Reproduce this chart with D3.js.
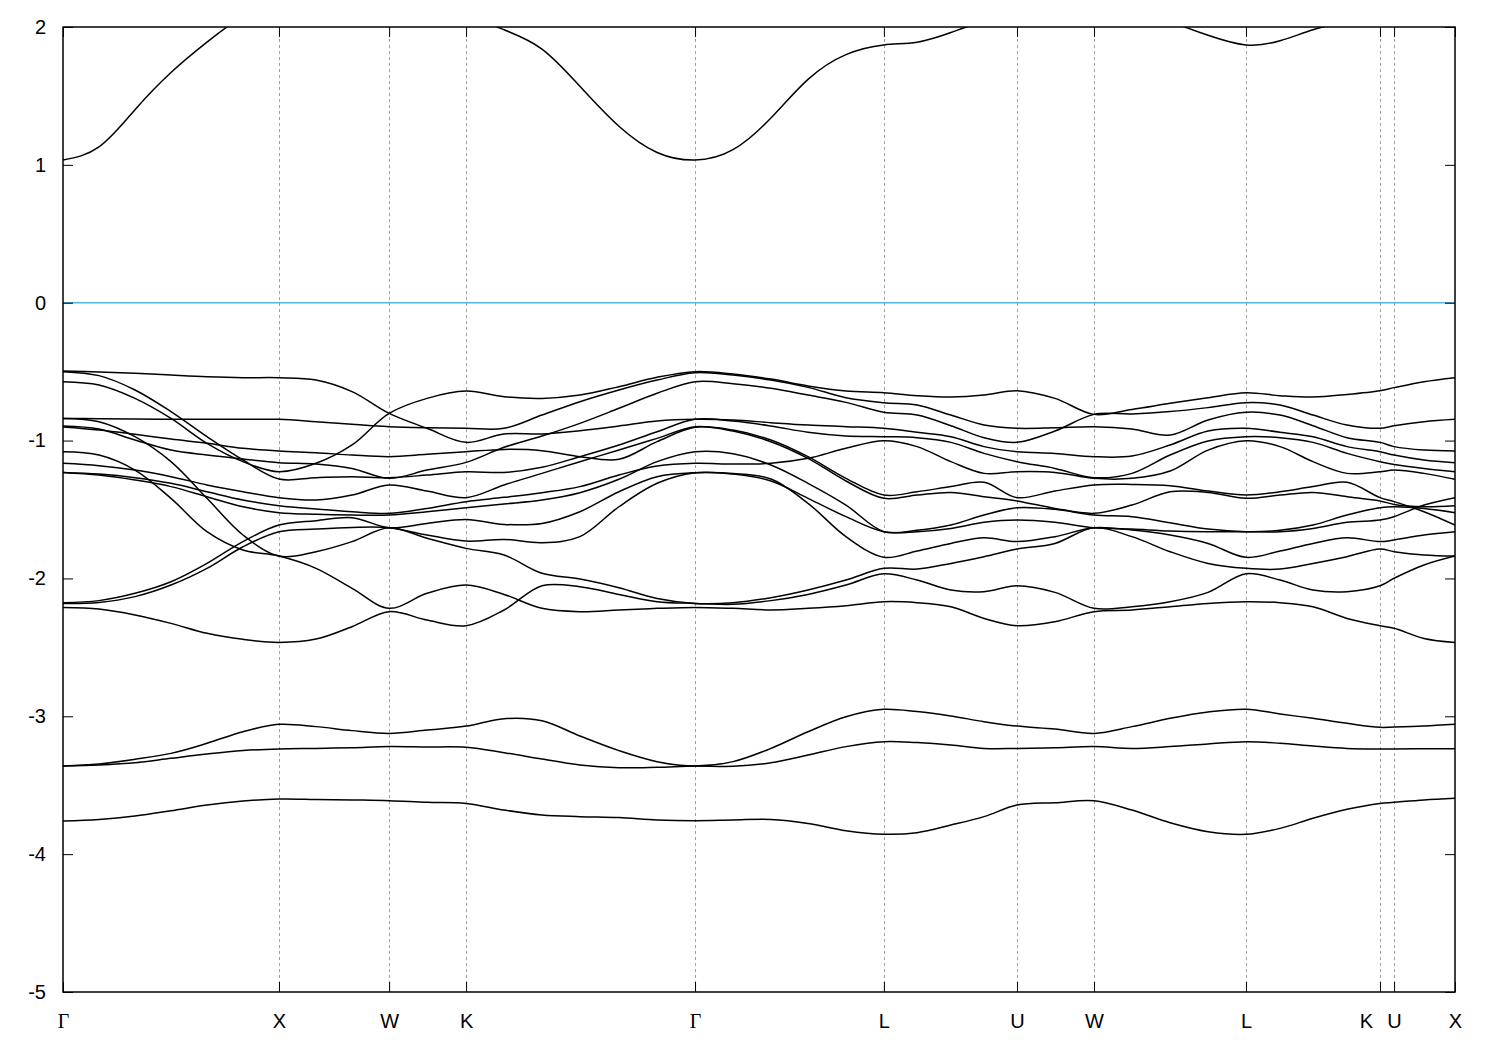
<!DOCTYPE html>
<html><head><meta charset="utf-8">
<script src="https://cdn.jsdelivr.net/npm/d3@7"></script>
<style>body{margin:0;background:#fff;} svg{display:block;}</style>
</head><body>
<svg id="chart" width="1500" height="1050"></svg>
<script>
// k-path distance of every sample point
const kGrid = [0,0.166,0.332,0.498,0.664,0.830,0.996, 1.167,1.333,1.504, 1.679,1.859,
  2.034,2.209,2.384,2.564,2.740,2.915, 3.090,3.265,3.436,3.611,3.786, 3.939,4.095,4.248,4.400,
  4.575,4.755, 4.930,5.106,5.281,5.456, 5.613,5.765,5.922,6.074, 6.139, 6.277,6.420];
const kTicks  = [0, 0.996, 1.504, 1.859, 2.915, 3.786, 4.400, 4.755, 5.456, 6.074, 6.139, 6.420];
const kLabels = ["Γ","X","W","K","Γ","L","U","W","L","K","U","X"];
const yTicks  = [-5,-4,-3,-2,-1,0,1,2];
const fermiLevel = 0;

// energies (eV) of each band at kGrid
const bandConduction = [1.035,1.13,1.40,1.67,1.89,2.08,2.2, 2.25,2.25,2.22, 2.15,2.08,
  1.98,1.84,1.57,1.28,1.09,1.035, 1.11,1.34,1.62,1.80,1.87, 1.89,1.96,2.04,2.08, 2.15,2.22,
  2.15,2.04,1.94,1.87, 1.90,1.98,2.04,2.08, 2.10, 2.15,2.2];
const bandA = [-0.495,-0.503,-0.512,-0.525,-0.537,-0.544,-0.544, -0.561,-0.645,-0.803, -0.911,-1.013,
  -0.952,-0.952,-0.928,-0.894,-0.858,-0.846, -0.851,-0.870,-0.887,-0.899,-0.911, -0.940,-0.972,-1.044,-1.081,
  -1.093,-1.117, -1.112,-1.032,-0.931,-0.911, -0.940,-0.972,-1.044,-1.081, -1.105, -1.141,-1.160];
const bandB = [-0.500,-0.529,-0.633,-0.790,-0.972,-1.141,-1.279, -1.269,-1.262,-1.269, -1.250,-1.226,
  -1.231,-1.194,-1.117,-1.032,-0.936,-0.846, -0.858,-0.894,-0.940,-0.967,-0.972, -0.979,-1.013,-1.093,-1.153,
  -1.202,-1.269, -1.238,-1.105,-1.003,-0.972, -0.979,-1.013,-1.093,-1.153, -1.173, -1.202,-1.226];
const bandC = [-0.573,-0.597,-0.694,-0.839,-1.020,-1.153,-1.226, -1.165,-1.032,-0.803, -0.694,-0.641,
  -0.682,-0.694,-0.670,-0.609,-0.541,-0.500, -0.517,-0.554,-0.604,-0.641,-0.653, -0.674,-0.684,-0.670,-0.638,
  -0.694,-0.810, -0.774,-0.730,-0.689,-0.653, -0.674,-0.684,-0.665,-0.638, -0.616, -0.573,-0.544];
const bandD = [-0.839,-0.841,-0.844,-0.846,-0.846,-0.846,-0.846, -0.863,-0.882,-0.899, -0.907,-0.911,
  -0.911,-0.815,-0.718,-0.633,-0.561,-0.508, -0.525,-0.561,-0.614,-0.689,-0.725, -0.742,-0.815,-0.887,-0.911,
  -0.907,-0.899, -0.916,-0.960,-0.851,-0.795, -0.815,-0.892,-0.979,-1.013, -1.044, -1.069,-1.076];
const bandE = [-0.902,-0.924,-0.955,-0.989,-1.020,-1.056,-1.076, -1.088,-1.105,-1.117, -1.100,-1.081,
  -1.064,-1.073,-1.117,-1.136,-1.008,-0.904, -0.924,-0.996,-1.117,-1.274,-1.395, -1.371,-1.334,-1.303,-1.414,
  -1.366,-1.322, -1.318,-1.327,-1.366,-1.395, -1.371,-1.334,-1.303,-1.414, -1.443, -1.516,-1.613];
const bandF = [-0.894,-0.916,-0.996,-1.069,-1.105,-1.134,-1.160, -1.170,-1.202,-1.274, -1.214,-1.158,
  -1.049,-0.967,-0.875,-0.766,-0.657,-0.573, -0.587,-0.621,-0.670,-0.723,-0.795, -0.815,-0.892,-0.979,-1.013,
  -0.931,-0.810, -0.807,-0.790,-0.761,-0.725, -0.742,-0.815,-0.887,-0.911, -0.892, -0.863,-0.846];
const bandH = [-1.165,-1.182,-1.214,-1.262,-1.322,-1.371,-1.414, -1.431,-1.395,-1.322, -1.366,-1.414,
  -1.322,-1.238,-1.153,-1.069,-0.984,-0.899, -0.931,-1.008,-1.129,-1.293,-1.419, -1.395,-1.376,-1.407,-1.438,
  -1.492,-1.528, -1.468,-1.371,-1.376,-1.419, -1.395,-1.376,-1.407,-1.438, -1.463, -1.480,-1.472];
const bandI = [-1.231,-1.243,-1.269,-1.310,-1.371,-1.431,-1.472, -1.497,-1.516,-1.528, -1.492,-1.443,
  -1.412,-1.378,-1.334,-1.250,-1.185,-1.165, -1.170,-1.165,-1.129,-1.056,-1.001, -1.044,-1.153,-1.238,-1.226,
  -1.231,-1.274, -1.274,-1.221,-1.069,-1.001, -1.044,-1.153,-1.238,-1.226, -1.214, -1.238,-1.281];
const bandJ = [-1.231,-1.250,-1.286,-1.334,-1.407,-1.480,-1.523, -1.535,-1.540,-1.540, -1.516,-1.487,
  -1.460,-1.431,-1.378,-1.281,-1.153,-1.081, -1.095,-1.177,-1.310,-1.468,-1.661, -1.651,-1.613,-1.540,-1.487,
  -1.499,-1.540, -1.552,-1.596,-1.642,-1.661, -1.651,-1.613,-1.540,-1.487, -1.480, -1.492,-1.523];
const bandK = [-2.176,-2.161,-2.108,-2.024,-1.891,-1.733,-1.613, -1.581,-1.559,-1.632, -1.601,-1.572,
  -1.608,-1.601,-1.516,-1.371,-1.262,-1.233, -1.238,-1.279,-1.455,-1.697,-1.847, -1.801,-1.746,-1.705,-1.733,
  -1.697,-1.632, -1.649,-1.685,-1.746,-1.847, -1.801,-1.746,-1.705,-1.733, -1.721, -1.685,-1.661];
const bandL = [-2.181,-2.174,-2.132,-2.048,-1.927,-1.770,-1.661, -1.642,-1.630,-1.632, -1.685,-1.729,
  -1.717,-1.741,-1.697,-1.480,-1.310,-1.233, -1.243,-1.293,-1.419,-1.552,-1.661, -1.661,-1.637,-1.593,-1.576,
  -1.593,-1.632, -1.642,-1.656,-1.661,-1.661, -1.661,-1.637,-1.593,-1.576, -1.552, -1.468,-1.414];
const bandM = [-0.839,-0.863,-0.972,-1.153,-1.419,-1.685,-1.838, -1.806,-1.733,-1.632, -1.709,-1.782,
  -1.830,-1.963,-2.004,-2.067,-2.145,-2.181, -2.176,-2.140,-2.084,-2.012,-1.927, -1.932,-1.891,-1.842,-1.787,
  -1.746,-1.632, -1.697,-1.806,-1.891,-1.927, -1.932,-1.891,-1.842,-1.787, -1.806, -1.830,-1.838];
const bandN = [-1.081,-1.105,-1.214,-1.419,-1.661,-1.794,-1.838, -1.927,-2.072,-2.217, -2.108,-2.048,
  -2.116,-2.217,-2.241,-2.229,-2.217,-2.210, -2.217,-2.229,-2.217,-2.198,-2.169, -2.176,-2.205,-2.290,-2.343,
  -2.314,-2.241, -2.229,-2.205,-2.181,-2.169, -2.176,-2.205,-2.290,-2.343, -2.362, -2.435,-2.464];
const bandO = [-2.210,-2.222,-2.265,-2.326,-2.398,-2.442,-2.464, -2.440,-2.350,-2.241, -2.302,-2.343,
  -2.229,-2.053,-2.060,-2.116,-2.169,-2.181, -2.188,-2.161,-2.116,-2.048,-1.966, -2.012,-2.084,-2.096,-2.053,
  -2.101,-2.217, -2.205,-2.169,-2.101,-1.966, -2.012,-2.084,-2.096,-2.053, -1.999, -1.903,-1.838];
const bandP = [-3.361,-3.346,-3.312,-3.269,-3.196,-3.112,-3.058, -3.075,-3.104,-3.124, -3.100,-3.071,
  -3.017,-3.032,-3.143,-3.249,-3.329,-3.361, -3.329,-3.233,-3.112,-3.003,-2.949, -2.966,-2.998,-3.039,-3.071,
  -3.092,-3.124, -3.075,-3.015,-2.969,-2.949, -2.983,-3.015,-3.051,-3.080, -3.078, -3.071,-3.058];
const bandQ = [-3.361,-3.353,-3.337,-3.305,-3.274,-3.249,-3.237, -3.233,-3.228,-3.220, -3.223,-3.225,
  -3.264,-3.310,-3.353,-3.373,-3.370,-3.361, -3.363,-3.337,-3.281,-3.220,-3.184, -3.191,-3.208,-3.233,-3.233,
  -3.228,-3.220, -3.233,-3.220,-3.201,-3.184, -3.196,-3.216,-3.233,-3.237, -3.237, -3.235,-3.235];
const bandR = [-3.760,-3.748,-3.723,-3.685,-3.644,-3.615,-3.600, -3.603,-3.607,-3.612, -3.624,-3.632,
  -3.680,-3.716,-3.728,-3.735,-3.752,-3.757, -3.752,-3.748,-3.777,-3.830,-3.856, -3.844,-3.789,-3.728,-3.644,
  -3.627,-3.612, -3.680,-3.772,-3.837,-3.856, -3.813,-3.740,-3.675,-3.632, -3.624, -3.607,-3.595];

const valenceBands = [bandA, bandB, bandC, bandD, bandE, bandF, bandH, bandI, bandJ,
  bandK, bandL, bandM, bandN, bandO, bandP, bandQ, bandR];

const W = 1500, H = 1050;
const m = {left: 63, right: 1455, top: 27, bottom: 992};
const x = d3.scaleLinear().domain([kTicks[0], kTicks[kTicks.length-1]]).range([m.left, m.right]);
const y = d3.scaleLinear().domain([yTicks[0], yTicks[yTicks.length-1]]).range([m.bottom, m.top]);

const svg = d3.select('#chart');
svg.append('rect').attr('width', W).attr('height', H).attr('fill', '#fff');
svg.append('defs').append('clipPath').attr('id', 'plotclip').append('rect')
  .attr('x', m.left).attr('y', m.top).attr('width', m.right - m.left).attr('height', m.bottom - m.top);

// vertical dashed grid at high-symmetry points
svg.append('g').selectAll('line').data(kTicks.slice(1, -1)).join('line')
  .attr('x1', d => Math.round(x(d)) + 0.5).attr('x2', d => Math.round(x(d)) + 0.5)
  .attr('y1', m.top).attr('y2', m.bottom)
  .attr('stroke', '#a0a0a0').attr('stroke-width', 1).attr('stroke-dasharray', '3,3');

// Fermi level
svg.append('line').attr('x1', m.left).attr('x2', m.right)
  .attr('y1', y(fermiLevel)).attr('y2', y(fermiLevel))
  .attr('stroke', '#56b4e9').attr('stroke-width', 1.5);

// bands
const gBands = svg.append('g').attr('clip-path', 'url(#plotclip)');
const lineV = d3.line().x((d, i) => x(kGrid[i])).y(d => y(d)).curve(d3.curveCatmullRom.alpha(0.5));
const lineC = d3.line().x((d, i) => x(kGrid[i])).y(d => y(d)).curve(d3.curveNatural);
gBands.selectAll('path.v').data(valenceBands).join('path').attr('class', 'v')
  .attr('d', lineV).attr('fill', 'none').attr('stroke', '#000').attr('stroke-width', 1.5)
  .attr('stroke-linejoin', 'round');
gBands.append('path').datum(bandConduction)
  .attr('d', lineC).attr('fill', 'none').attr('stroke', '#000').attr('stroke-width', 1.5);

// axes
const font = '"Liberation Sans", Arial, sans-serif';
const yAxis = svg.append('g').attr('transform', `translate(${m.left},0)`)
  .call(d3.axisLeft(y).tickValues(yTicks).tickSize(-10).tickPadding(17).tickFormat(d => String(d)));
yAxis.select('.domain').remove();
yAxis.selectAll('text').attr('font-family', font).attr('font-size', 20).attr('fill', '#000');
yAxis.selectAll('line').attr('stroke', '#000');

const yAxisR = svg.append('g').attr('transform', `translate(${m.right},0)`)
  .call(d3.axisRight(y).tickValues(yTicks).tickSize(-10).tickFormat(''));
yAxisR.select('.domain').remove();

const xAxis = svg.append('g').attr('transform', `translate(0,${m.bottom})`)
  .call(d3.axisBottom(x).tickValues(kTicks).tickSize(-10).tickPadding(22).tickFormat((d, i) => kLabels[i]));
xAxis.select('.domain').remove();
xAxis.selectAll('text')
  .attr('font-family', (d, i) => kLabels[i] === 'Γ' ? '"Liberation Serif", "DejaVu Serif", serif' : font)
  .attr('font-size', 20).attr('fill', '#000')
  .attr('dx', (d, i) => (i === 9 ? -14 : 0));

const xAxisT = svg.append('g').attr('transform', `translate(0,${m.top})`)
  .call(d3.axisTop(x).tickValues(kTicks).tickSize(-10).tickFormat(''));
xAxisT.select('.domain').remove();

// frame
svg.append('rect').attr('x', m.left).attr('y', m.top)
  .attr('width', m.right - m.left).attr('height', m.bottom - m.top)
  .attr('fill', 'none').attr('stroke', '#000').attr('stroke-width', 1.5);
</script>
</body></html>
